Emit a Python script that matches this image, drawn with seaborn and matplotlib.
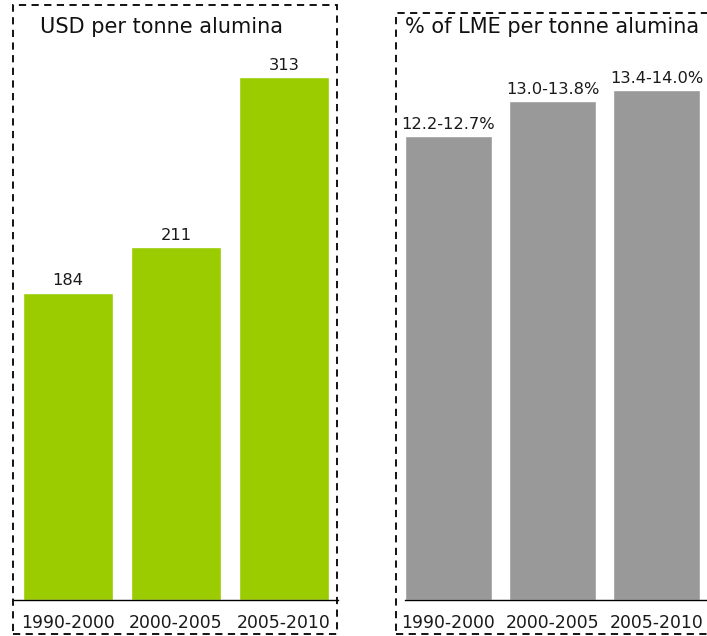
import matplotlib
matplotlib.use("Agg")
import matplotlib.pyplot as plt
import pandas as pd
import seaborn as sns
from matplotlib.patches import Rectangle

sns.set_style("white")
plt.rcParams['font.family'] = ['DejaVu Sans']

# Data
periods = ["1990-2000", "2000-2005", "2005-2010"]
usd_per_tonne = [184, 211, 313]
lme_pct_mid = [12.45, 13.4, 13.7]
lme_pct_labels = ["12.2-12.7%", "13.0-13.8%", "13.4-14.0%"]

GREEN = "#9ACC00"
GREY = "#999999"

W, H = 707, 636
fig = plt.figure(figsize=(W / 100, H / 100), dpi=100)


def px_axes(left, right, top, bottom):
    # pixel box (from top-left) -> figure fraction
    return [left / W, 1 - bottom / H, (right - left) / W, (bottom - top) / H]


def style_axis(ax):
    for side in ["top", "left", "right"]:
        ax.spines[side].set_visible(False)
    ax.spines["bottom"].set_color("black")
    ax.spines["bottom"].set_linewidth(1.0)
    ax.set_yticks([])
    ax.set_xlabel("")
    ax.set_ylabel("")
    ax.tick_params(axis="x", length=0, pad=10, labelsize=12.4, colors="#1a1a1a")
    ax.patch.set_alpha(0)


# Left panel: USD per tonne alumina
ax1 = fig.add_axes(px_axes(14, 338, 60, 600))
df1 = pd.DataFrame({"Period": periods, "Value": usd_per_tonne})
sns.barplot(data=df1, x="Period", y="Value", color=GREEN, saturation=1,
            width=0.83, ax=ax1, errorbar=None)
ax1.set_xlim(-0.5, 2.5)
ax1.set_ylim(0, 540 / (523 / 313))
for i, v in enumerate(usd_per_tonne):
    ax1.annotate(f"{v}", (i, v), xytext=(0, 3), textcoords="offset points",
                 ha="center", va="bottom", fontsize=11.7, color="#1a1a1a")
style_axis(ax1)

# Right panel: % of LME per tonne alumina
ax2 = fig.add_axes(px_axes(405, 707, 60, 600))
df2 = pd.DataFrame({"Period": periods, "Value": lme_pct_mid})
sns.barplot(data=df2, x="Period", y="Value", color=GREY, saturation=1,
            width=0.84, ax=ax2, errorbar=None)
ax2.set_xlim(-0.418, 2.486)
ax2.set_ylim(0, 540 / 37.25)
for i, (v, lab) in enumerate(zip(lme_pct_mid, lme_pct_labels)):
    ax2.annotate(lab, (i, v), xytext=(0, 3), textcoords="offset points",
                 ha="center", va="bottom", fontsize=11.7, color="#1a1a1a")
style_axis(ax2)

# Panel titles
fig.text(40 / W, 1 - 27 / H, "USD per tonne alumina", fontsize=15,
         ha="left", va="center", color="#111111")
fig.text(405 / W, 1 - 27 / H, "% of LME per tonne alumina", fontsize=15,
         ha="left", va="center", color="#111111")

# Dashed frames round each panel
for (l, t, r, b) in [(13, 5, 337, 634), (396, 13, 712, 634)]:
    fig.patches.append(Rectangle((l / W, 1 - b / H), (r - l) / W, (b - t) / H,
                                 transform=fig.transFigure, fill=False,
                                 edgecolor="black", linewidth=1.3,
                                 linestyle=(0, (4, 3)), zorder=0))

fig.savefig("out.png", dpi=100)
